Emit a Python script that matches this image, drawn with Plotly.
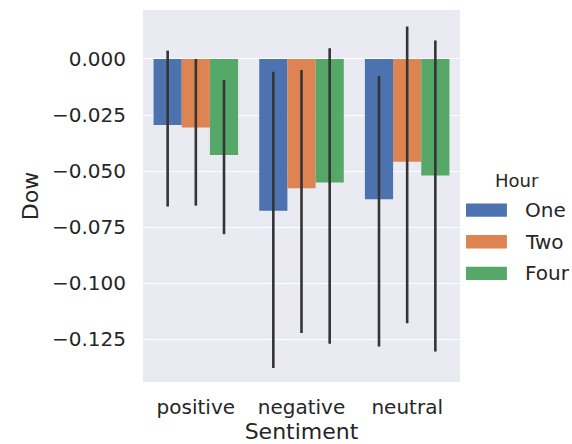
import plotly.graph_objects as go

# Mean Dow change per sentiment class, split by hour, with bootstrap CI bounds
sentiments = ["positive", "negative", "neutral"]
hours = ["One", "Two", "Four"]
means = {
    "One":  [-0.0294, -0.0677, -0.0625],
    "Two":  [-0.0306, -0.0576, -0.0458],
    "Four": [-0.0428, -0.0551, -0.0520],
}
ci_low = {
    "One":  [-0.0658, -0.1378, -0.1282],
    "Two":  [-0.0654, -0.1222, -0.1178],
    "Four": [-0.0781, -0.1270, -0.1304],
}
ci_high = {
    "One":  [0.0037, -0.0057, -0.0076],
    "Two":  [0.0000, -0.0049, 0.0144],
    "Four": [-0.0094, 0.0048, 0.0082],
}
y_ticks = [0.0, -0.025, -0.05, -0.075, -0.1, -0.125]

palette = {"One": "#4C72B0", "Two": "#DD8452", "Four": "#55A868"}
font_family = "DejaVu Sans, Liberation Sans, sans-serif"
text_color = "#262626"

fig = go.Figure()
for h in hours:
    plus = [hi - m for hi, m in zip(ci_high[h], means[h])]
    minus = [m - lo for m, lo in zip(means[h], ci_low[h])]
    fig.add_trace(go.Bar(
        name=h, x=sentiments, y=means[h],
        marker=dict(color=palette[h], line=dict(width=0)),
        error_y=dict(type="data", symmetric=False, array=plus, arrayminus=minus,
                     color="#353535", thickness=2.6, width=0),
        showlegend=False,
    ))

# Legend drawn as colour swatches with labels to the right of the plot
fig.add_annotation(text="Hour", x=1.18, y=0.543, xref="paper", yref="paper",
                   xanchor="center", yanchor="middle", showarrow=False,
                   font=dict(size=18, color=text_color, family=font_family))
leg_y = [0.462, 0.377, 0.292]
for h, yy in zip(hours, leg_y):
    fig.add_shape(type="rect", xref="paper", yref="paper",
                  x0=1.019, x1=1.148, y0=yy - 0.018, y1=yy + 0.018,
                  fillcolor=palette[h], line=dict(width=0))
    fig.add_annotation(text=h, x=1.2, y=yy, xref="paper", yref="paper",
                       xanchor="left", yanchor="middle", showarrow=False,
                       font=dict(size=20, color=text_color, family=font_family))

fig.update_layout(
    width=572, height=444,
    margin=dict(l=143, r=112, t=10, b=62),
    paper_bgcolor="white", plot_bgcolor="#EAEAF2",
    barmode="group", bargap=0.2, bargroupgap=0,
    font=dict(family=font_family, size=20, color=text_color),
)
fig.update_xaxes(
    type="category", range=[-0.5, 2.5], showgrid=False, zeroline=False,
    ticks="", tickfont=dict(size=20), ticklabelstandoff=11, automargin=False,
    title=dict(text="Sentiment", font=dict(size=22), standoff=0),
)
fig.update_yaxes(
    range=[-0.144, 0.0218], tickvals=y_ticks, tickformat=".3f",
    showgrid=True, gridcolor="white", gridwidth=1, zeroline=False,
    ticks="", tickfont=dict(size=20), ticklabelstandoff=16, automargin=False,
    title=dict(text="Dow", font=dict(size=22), standoff=7),
)

fig.write_html("out.html")
